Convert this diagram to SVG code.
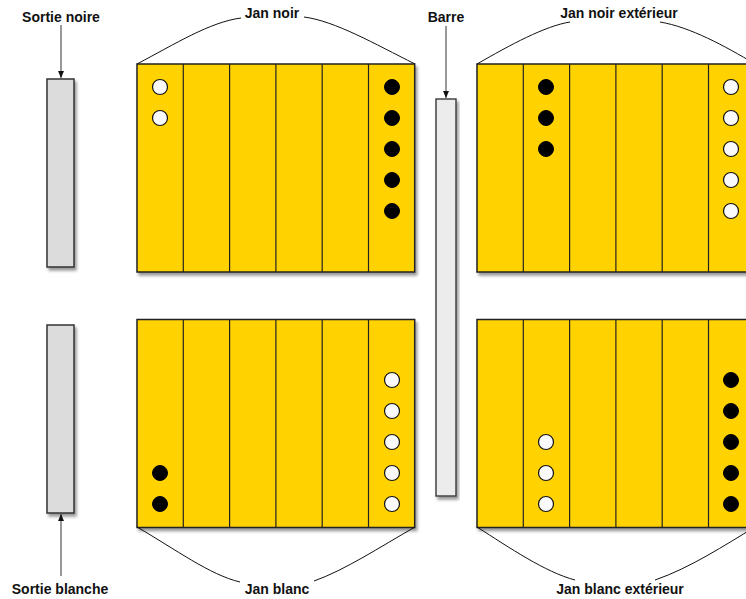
<svg xmlns="http://www.w3.org/2000/svg" width="746" height="599" viewBox="0 0 746 599">
<style>
.lbl{font-family:"Liberation Sans",Arial,sans-serif;font-size:14px;font-weight:bold;fill:#111;text-anchor:middle}
.board{fill:#FFD200;stroke:#222;stroke-width:1.5}
.div{stroke:#222;stroke-width:1.2}
.w{fill:#fafafa;stroke:#111;stroke-width:1.2}
.b{fill:#000;stroke:#000;stroke-width:1}
.sortie{fill:#dcdcdc;stroke:#333;stroke-width:1.5}
.barre{fill:#ececec;stroke:#444;stroke-width:1.5}
.brace{fill:none;stroke:#111;stroke-width:1}
.arr{fill:none;stroke:#333;stroke-width:1}
</style>
<defs>
<filter id="sh" x="-10%" y="-10%" width="130%" height="130%">
<feDropShadow dx="2" dy="3" stdDeviation="1.8" flood-color="#000" flood-opacity="0.4"/>
</filter>
<marker id="ah" markerWidth="8" markerHeight="8" refX="7" refY="4" orient="auto" markerUnits="userSpaceOnUse">
<path d="M0,1 L7,4 L0,7 Z" fill="#111"/>
</marker>
<g id="cols">
<line class="div" x1="46.3" y1="0" x2="46.3" y2="208"/>
<line class="div" x1="92.6" y1="0" x2="92.6" y2="208"/>
<line class="div" x1="138.9" y1="0" x2="138.9" y2="208"/>
<line class="div" x1="185.2" y1="0" x2="185.2" y2="208"/>
<line class="div" x1="231.5" y1="0" x2="231.5" y2="208"/>
</g>
</defs>
<rect width="746" height="599" fill="#fff"/>

<g id="sortie-noire">
<rect class="sortie" x="47" y="79" width="27" height="188" filter="url(#sh)"/>
<text class="lbl" x="61" y="22">Sortie noire</text>
</g>
<g id="sortie-blanche">
<rect class="sortie" x="47" y="325" width="27" height="188" filter="url(#sh)"/>
<text class="lbl" x="60" y="594">Sortie blanche</text>
</g>
<g id="barre">
<rect class="barre" x="436" y="99" width="20" height="397" filter="url(#sh)"/>
<text class="lbl" x="446" y="22">Barre</text>
</g>

<g id="jan-noir">
<rect class="board" x="137" y="64" width="277.7" height="208" filter="url(#sh)"/>
<use href="#cols" x="137" y="64"/>
<circle class="w" cx="160" cy="87" r="7.5"/>
<circle class="w" cx="160" cy="118" r="7.5"/>
<circle class="b" cx="392" cy="87" r="7.5"/>
<circle class="b" cx="392" cy="118" r="7.5"/>
<circle class="b" cx="392" cy="149" r="7.5"/>
<circle class="b" cx="392" cy="180" r="7.5"/>
<circle class="b" cx="392" cy="211" r="7.5"/>
<text class="lbl" x="272" y="18">Jan noir</text>
</g>

<g id="jan-blanc">
<rect class="board" x="137" y="319.5" width="277.7" height="208" filter="url(#sh)"/>
<use href="#cols" x="137" y="319.5"/>
<circle class="b" cx="160" cy="473" r="7.5"/>
<circle class="b" cx="160" cy="504" r="7.5"/>
<circle class="w" cx="392" cy="380" r="7.5"/>
<circle class="w" cx="392" cy="411" r="7.5"/>
<circle class="w" cx="392" cy="442" r="7.5"/>
<circle class="w" cx="392" cy="473" r="7.5"/>
<circle class="w" cx="392" cy="504" r="7.5"/>
<text class="lbl" x="277" y="594">Jan blanc</text>
</g>

<g id="jan-noir-exterieur">
<rect class="board" x="477" y="64" width="277.7" height="208" filter="url(#sh)"/>
<use href="#cols" x="477" y="64"/>
<circle class="b" cx="546" cy="87" r="7.5"/>
<circle class="b" cx="546" cy="118" r="7.5"/>
<circle class="b" cx="546" cy="149" r="7.5"/>
<circle class="w" cx="731" cy="87" r="7.5"/>
<circle class="w" cx="731" cy="118" r="7.5"/>
<circle class="w" cx="731" cy="149" r="7.5"/>
<circle class="w" cx="731" cy="180" r="7.5"/>
<circle class="w" cx="731" cy="211" r="7.5"/>
<text class="lbl" x="619" y="18">Jan noir extérieur</text>
</g>

<g id="jan-blanc-exterieur">
<rect class="board" x="477" y="319.5" width="277.7" height="208" filter="url(#sh)"/>
<use href="#cols" x="477" y="319.5"/>
<circle class="w" cx="546" cy="442" r="7.5"/>
<circle class="w" cx="546" cy="473" r="7.5"/>
<circle class="w" cx="546" cy="504" r="7.5"/>
<circle class="b" cx="731" cy="380" r="7.5"/>
<circle class="b" cx="731" cy="411" r="7.5"/>
<circle class="b" cx="731" cy="442" r="7.5"/>
<circle class="b" cx="731" cy="473" r="7.5"/>
<circle class="b" cx="731" cy="504" r="7.5"/>
<text class="lbl" x="620" y="594">Jan blanc extérieur</text>
</g>

<g id="connectors">
<line class="arr" x1="61" y1="25" x2="61" y2="78" marker-end="url(#ah)"/>
<line class="arr" x1="61" y1="576" x2="61" y2="514" marker-end="url(#ah)"/>
<line class="arr" x1="446" y1="26" x2="446" y2="98" marker-end="url(#ah)"/>
<path class="brace" d="M137,64 C175,44 210,22 241,18"/>
<path class="brace" d="M304,17 C335,21 375,44 415,64"/>
<path class="brace" d="M477,64 C510,45 545,26 570,22"/>
<path class="brace" d="M660,22 C690,27 725,46 755,64"/>
<path class="brace" d="M137,527 C175,549 210,575 240,582"/>
<path class="brace" d="M314,581 C345,570 380,547 415,527"/>
<path class="brace" d="M477,527 C510,548 545,572 575,580"/>
<path class="brace" d="M655,580 C690,568 725,545 755,527"/>
</g>
</svg>
